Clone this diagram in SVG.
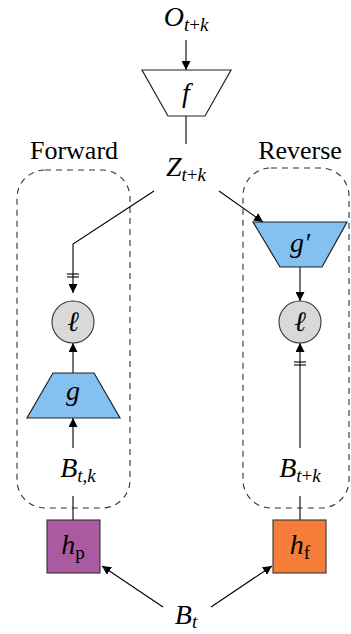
<svg xmlns="http://www.w3.org/2000/svg" width="351" height="634" viewBox="0 0 351 634">
<style>
.m{font-family:"Liberation Serif","DejaVu Serif",serif;font-style:italic;font-size:28px;fill:#000}
.r{font-style:normal}
.s{font-size:19px}
.lbl{font-family:"Liberation Serif","DejaVu Serif",serif;font-size:26px;fill:#000}
.ln{stroke:#000;stroke-width:1.1;fill:none}
.box{fill:none;stroke:#333;stroke-width:1.1;stroke-dasharray:6,5}
.trap{fill:#85C1F0;stroke:#222;stroke-width:1.2}
.circ{fill:#d9d9d9;stroke:#333;stroke-width:1.1}
</style>
<defs>
<marker id="ah" viewBox="0 0 10 10" refX="10" refY="5" markerWidth="9" markerHeight="9" markerUnits="userSpaceOnUse" orient="auto">
<path d="M0,0 L10,5 L0,10 z" fill="#000"/>
</marker>
</defs>

<g id="labels">
<text class="lbl" x="74" y="159" text-anchor="middle">Forward</text>
<text class="lbl" x="300" y="159" text-anchor="middle">Reverse</text>
</g>

<g id="boxes">
<rect class="box" x="17" y="170" width="113" height="338" rx="28" ry="28"/>
<rect class="box" x="243" y="168" width="106" height="340" rx="28" ry="28"/>
</g>

<g id="connectors">
<line class="ln" x1="186" y1="40" x2="186" y2="70" marker-end="url(#ah)"/>
<line class="ln" x1="186" y1="116" x2="186" y2="144"/>
<polyline class="ln" points="154,191 73,244 73,293" marker-end="url(#ah)"/>
<line class="ln" x1="67" y1="274" x2="79" y2="274"/>
<line class="ln" x1="67" y1="277" x2="79" y2="277"/>
<line class="ln" x1="219" y1="191" x2="263" y2="222" marker-end="url(#ah)"/>
<line class="ln" x1="300" y1="267" x2="300" y2="301" marker-end="url(#ah)"/>
<line class="ln" x1="73" y1="373" x2="73" y2="343" marker-end="url(#ah)"/>
<line class="ln" x1="73" y1="448" x2="73" y2="418" marker-end="url(#ah)"/>
<line class="ln" x1="73" y1="496" x2="73" y2="520"/>
<line class="ln" x1="300" y1="448" x2="300" y2="343" marker-end="url(#ah)"/>
<line class="ln" x1="294" y1="362" x2="306" y2="362"/>
<line class="ln" x1="294" y1="365" x2="306" y2="365"/>
<line class="ln" x1="300" y1="496" x2="300" y2="520"/>
<line class="ln" x1="163" y1="607" x2="102" y2="566" marker-end="url(#ah)"/>
<line class="ln" x1="211" y1="607" x2="272" y2="566" marker-end="url(#ah)"/>
</g>

<g id="O">
<text class="m" x="186" y="26" text-anchor="middle">O<tspan class="s" dy="5">t<tspan class="r">+</tspan>k</tspan></text>
</g>

<g id="f">
<polygon points="142,70 231,70 205,116 168,116" fill="#fff" stroke="#222" stroke-width="1.2"/>
<text class="m" x="186" y="102" text-anchor="middle">f</text>
</g>

<g id="Z">
<text class="m" x="186" y="176" text-anchor="middle">Z<tspan class="s" dy="5">t<tspan class="r">+</tspan>k</tspan></text>
</g>

<g id="gprime">
<polygon class="trap" points="253,222 347,222 322,267 280,267"/>
<text class="m" x="300" y="252" text-anchor="middle">g′</text>
</g>

<g id="loss_left">
<circle class="circ" cx="73" cy="322" r="21"/>
<text class="m" x="73" y="331" text-anchor="middle" font-size="24">ℓ</text>
</g>

<g id="loss_right">
<circle class="circ" cx="300" cy="322" r="21"/>
<text class="m" x="300" y="331" text-anchor="middle" font-size="24">ℓ</text>
</g>

<g id="g">
<polygon class="trap" points="53,373 94,373 120,418 27,418"/>
<text class="m" x="73" y="400" text-anchor="middle">g</text>
</g>

<g id="Btk">
<text class="m" x="78" y="477" text-anchor="middle">B<tspan class="s" dy="5">t<tspan class="r">,</tspan>k</tspan></text>
</g>

<g id="Btpk">
<text class="m" x="300" y="477" text-anchor="middle">B<tspan class="s" dy="5">t<tspan class="r">+</tspan>k</tspan></text>
</g>

<g id="hp">
<rect x="47" y="520" width="53" height="53" fill="#A95AA1" stroke="#333" stroke-width="1.1"/>
<text class="m" x="73" y="554" text-anchor="middle">h<tspan class="r s" dy="5">p</tspan></text>
</g>

<g id="hf">
<rect x="273" y="520" width="53" height="53" fill="#F57D3A" stroke="#333" stroke-width="1.1"/>
<text class="m" x="300" y="554" text-anchor="middle">h<tspan class="r s" dy="5">f</tspan></text>
</g>

<g id="Bt">
<text class="m" x="186" y="624" text-anchor="middle">B<tspan class="s" dy="4">t</tspan></text>
</g>
</svg>
